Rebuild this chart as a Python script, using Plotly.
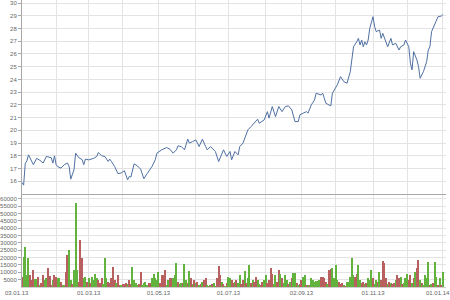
import plotly.graph_objects as go
import pandas as pd

# trading days on the time axis (03.01.13 .. 01.01.14)
trading_days = pd.bdate_range("2013-01-03", "2014-01-01")

# price line: trading-day index and price
price_day = [0, 1, 2, 3, 4, 7, 9, 11, 13, 15, 18, 19, 20, 21, 22, 24, 26, 28, 29, 30,
             32, 33, 35, 37, 38, 39, 41, 44, 46, 47, 49, 51, 53, 54, 55, 57, 59, 61, 63, 64,
             65, 66, 67, 69, 71, 73, 75, 77, 80, 82, 83, 86, 89, 91, 93, 95, 96, 98, 100, 102,
             103, 105, 107, 109, 111, 113, 114, 116, 119, 121, 123, 124, 126, 128, 129, 131, 133, 134, 136, 137,
             139, 141, 143, 145, 146, 148, 149, 151, 152, 154, 156, 158, 160, 162, 164, 166, 168, 170, 171, 173,
             175, 176, 178, 180, 181, 184, 185, 186, 187, 190, 191, 194, 196, 198, 200, 202, 203, 204, 206, 207,
             208, 209, 210, 211, 212, 213, 214, 216, 217, 218, 220, 221, 222, 224, 225, 227, 228, 230, 232, 233,
             235, 236, 238, 239, 240, 241, 243, 244, 245, 247, 249, 250, 251, 252, 254, 256, 258, 259]
price = [15.9, 15.7, 17.4, 17.6, 18.08, 17.3, 17.8, 17.65, 17.43, 17.95, 17.85, 17.43, 18.0, 17.3, 17.15, 17.03, 17.3, 17.43, 17.16, 16.17,
         16.9, 18.2, 17.85, 17.7, 17.3, 17.74, 17.68, 17.8, 17.95, 18.26, 18.0, 17.95, 17.56, 17.74, 17.56, 17.16, 16.6, 16.65, 16.83, 16.52,
         16.12, 16.38, 16.33, 17.37, 17.21, 16.95, 16.2, 16.6, 17.16, 17.69, 18.21, 18.47, 18.65, 18.52, 18.21, 18.47, 18.78, 18.73, 18.47, 19.31,
         19.0, 19.12, 19.25, 18.73, 19.31, 18.73, 18.47, 18.73, 18.34, 17.55, 18.08, 18.47, 17.95, 18.34, 17.69, 18.34, 18.08, 18.73, 19.0, 19.31,
         20.04, 20.3, 20.56, 20.88, 20.56, 20.77, 20.82, 21.47, 20.96, 21.87, 21.08, 21.87, 21.47, 21.87, 21.92, 21.61, 20.69, 20.69, 21.22, 21.35,
         21.47, 21.35, 22.0, 22.39, 22.92, 22.78, 22.92, 22.53, 22.13, 21.92, 22.92, 23.57, 24.22, 23.83, 23.7, 24.61, 25.79, 26.57, 26.96, 27.23,
         26.71, 27.1, 26.57, 26.96, 26.71, 27.1, 28.02, 28.93, 28.14, 27.75, 27.88, 27.23, 27.62, 26.96, 26.57, 27.23, 26.71, 26.84, 26.31, 26.57,
         26.71, 27.1, 26.57, 25.27, 24.75, 26.18, 25.53, 25.0, 24.09, 24.61, 25.4, 26.31, 26.57, 27.75, 28.4, 28.93, 28.98, 29.1]

# daily volume, one value per trading day
volume = [7000, 20700, 27500, 8200, 20000, 8200, 4800, 11600, 5500, 5500,
          7000, 1400, 2500, 8200, 4800, 5900, 13200, 7700, 1400, 4800,
          8200, 7000, 5900, 5900, 3600, 1400, 1400, 10500, 21800, 25300,
          4800, 2000, 11600, 57000, 11600, 3600, 32100, 19500, 5900, 7000,
          3600, 5900, 2500, 7000, 4800, 9200, 5900, 4800, 2500, 5900,
          2000, 19500, 5900, 3600, 2500, 5900, 13900, 4800, 2500, 8200,
          1100, 1400, 1800, 1800, 2500, 1800, 4800, 1800, 13900, 4800,
          2500, 1400, 1800, 10500, 1400, 2500, 3600, 1400, 2500, 2500,
          5900, 9200, 5900, 4800, 10500, 3000, 8200, 8200, 11600, 1400,
          4800, 5900, 6300, 5900, 8200, 16100, 3600, 1800, 2500, 2500,
          15600, 4800, 2500, 10900, 5900, 1800, 4800, 2500, 3600, 1400,
          1800, 3200, 4800, 5900, 1400, 900, 1400, 1800, 2500, 900,
          5900, 14500, 8200, 3600, 1800, 900, 2500, 7000, 5900, 4800,
          2500, 3600, 4800, 2500, 8200, 1800, 4800, 10900, 2500, 5900,
          15000, 2500, 4800, 3600, 7000, 4800, 1800, 1400, 3600, 4800,
          8200, 2500, 4800, 12700, 9200, 1800, 8200, 3600, 11600, 9200,
          5900, 2500, 8200, 4800, 1800, 3200, 5900, 9700, 9700, 2500,
          1400, 1800, 4800, 7000, 8200, 1400, 1400, 1400, 5900, 4800,
          3600, 4100, 4100, 4800, 7000, 7000, 5900, 3600, 1800, 11600,
          12100, 12700, 5900, 15000, 4800, 3600, 1800, 2500, 1400, 900,
          3600, 3200, 7000, 19500, 8200, 7000, 8600, 15000, 4800, 2500,
          3600, 1800, 2500, 5900, 4800, 11600, 5900, 1800, 4800, 3600,
          10500, 4800, 17700, 16100, 5900, 1800, 3600, 2500, 1800, 2500,
          4800, 8200, 5900, 7000, 1800, 2500, 5900, 9200, 4800, 8200,
          2500, 5900, 10500, 12700, 18400, 4800, 2500, 1400, 8200, 5900,
          16800, 1400, 1800, 2500, 16800, 7000, 1400, 5900, 1400, 10500]

# g = up day, r = down day
vol_dir = ("rggggrrrgg" "rgrrggrrrg" "rrggrggrrg" "grgggrrrgg" "rgrggggrrr"
           "gggrrrrrgr" "rgrrrgrrgg" "ggrrggggrr" "gggggrrrrg" "grrgggrggr"
           "ggrgrgrgrg" "rgrrgrgrgg" "rrrgrgrggr" "rgrggrrgrg" "grgrrggrrg"
           "grrrrggrrg" "rgggrgrggr" "grrggrgrgg" "ggggrrrrgr" "rggggrrrgr"
           "gggggrrggr" "rgrgggrggr" "grrrrgrgrr" "grrgrgggrr" "grgrrgrggg"
           "grgrggrgrg")

price_ticks = list(range(16, 31))
volume_ticks = list(range(5000, 60001, 5000))

n = len(trading_days)
vol_idx = list(range(n))
month_start = [i for i, d in enumerate(trading_days)
               if i == 0 or d.month != trading_days[i - 1].month]
labels = [trading_days[i].strftime("%d.%m.%y") for i in month_start]
tick_text = [lab if k % 2 == 0 else "" for k, lab in enumerate(labels)]
# first/last labels are drawn as annotations (nudged to stay inside the page)
edge_labels = [(month_start[0], tick_text[0]), (month_start[-1], tick_text[-1])]
tick_text[0] = ""
tick_text[-1] = ""

GREEN = "#62b23e"
RED = "#b86060"
colors = [GREEN if c == "g" else RED for c in vol_dir]

GRID = "#e3e3e3"
AX = "#a8a8a8"
FONT = dict(family="Liberation Sans, Arial, sans-serif", size=6, color="#666666")

fig = go.Figure()
fig.add_trace(go.Scatter(x=price_day, y=price, mode="lines",
                         line=dict(color="#4f70a3", width=1),
                         xaxis="x", yaxis="y", hoverinfo="skip"))
fig.add_trace(go.Bar(x=vol_idx, y=volume, marker=dict(color=colors, line=dict(width=0)),
                     width=0.7, xaxis="x2", yaxis="y2", hoverinfo="skip"))

xrange = [0, n + 0.9]
fig.update_layout(
    width=450, height=300,
    margin=dict(l=20, r=4, t=0, b=13),
    paper_bgcolor="white", plot_bgcolor="white",
    showlegend=False, bargap=0,
    font=FONT,
    xaxis=dict(domain=[0, 1], anchor="y", range=xrange, tickvals=month_start,
               showticklabels=False, showgrid=True, gridcolor=GRID, gridwidth=1,
               zeroline=False, showline=True, linecolor=AX, linewidth=1, ticks=""),
    yaxis=dict(domain=[0.324, 1], anchor="x", range=[15, 30.24], tickvals=price_ticks,
               showgrid=True, gridcolor=GRID, zeroline=False, showline=True,
               linecolor=AX, ticks="outside", ticklen=3, tickcolor=AX, tickfont=FONT),
    xaxis2=dict(domain=[0, 1], anchor="y2", range=xrange, tickvals=month_start,
                ticktext=tick_text, showgrid=True, gridcolor=GRID, zeroline=False,
                showline=True, linecolor="#d0d0d0", ticks="", tickfont=FONT),
    yaxis2=dict(domain=[0, 0.3206], anchor="x2", range=[0, 62727], tickvals=volume_ticks,
                tickformat="d", showgrid=True, gridcolor=GRID, zeroline=False, showline=True,
                linecolor=AX, ticks="outside", ticklen=3, tickcolor=AX, tickfont=FONT),
)

for (xi, txt) in edge_labels:
    fig.add_annotation(x=xi, y=0, xref="x2", yref="paper", text=txt, showarrow=False,
                       xanchor="center", yanchor="top", xshift=-5, yshift=-1, font=FONT)

fig.write_html("out.html")
